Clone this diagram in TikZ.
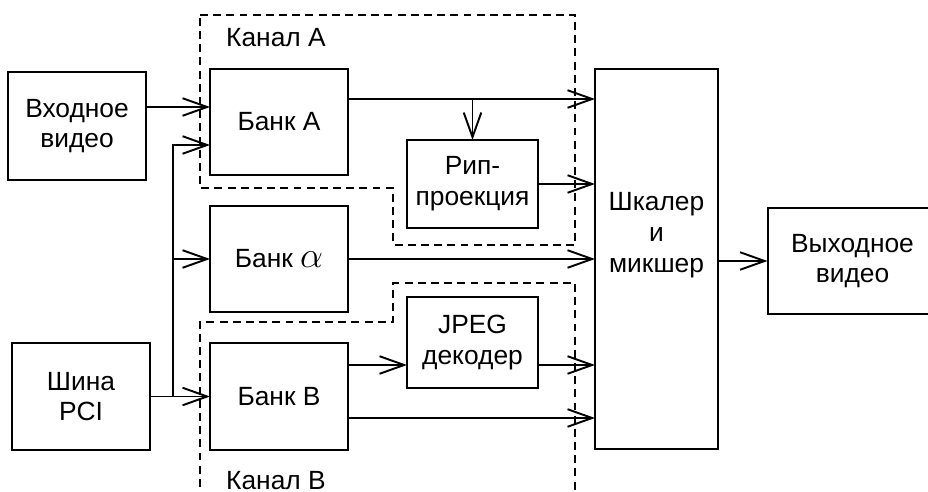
\documentclass[tikz,border=0pt]{standalone}
\usepackage{fontspec}
\setmainfont{Liberation Sans}
\usepackage{tikz}
\usetikzlibrary{arrows.meta, calc}

\begin{document}
\begin{tikzpicture}[x=0.02cm, y=-0.02cm,
        font=\fontsize{15}{17.5}\selectfont,
        >={Straight Barb[length=14pt, width=10pt, line width=1.1pt]},
        blk/.style={draw, line width=1.1pt, inner sep=0pt, outer sep=0pt, align=center},
        wire/.style={line width=1.1pt},
        chan/.style={line width=0.6pt, dash pattern=on 4.5pt off 3pt}]
        \useasboundingbox (0,0) rectangle (928,492);

        \node[blk, minimum width=2.76cm, minimum height=2.16cm] (vin) at (77,126) {Входное\\видео};
        \node[blk, minimum width=2.76cm, minimum height=2.14cm] (pci) at (81,396.5) {Шина\\PCI};
        \node[blk, minimum width=2.76cm, minimum height=2.12cm] (bankA) at (279,122) {Банк A};
        \node[blk, minimum width=2.76cm, minimum height=2.12cm] (bankal) at (279,259) {Банк {\fontsize{21}{21}\selectfont$\alpha$}};
        \node[blk, minimum width=2.76cm, minimum height=2.14cm] (bankB) at (279,396.5) {Банк B};
        \node[blk, minimum width=2.62cm, minimum height=1.76cm] (rip) at (472.5,184) {Рип-\\проекция};
        \node[blk, minimum width=2.62cm, minimum height=1.82cm] (jpeg) at (472.5,342.5) {JPEG\\декодер};
        \node[blk, minimum width=2.46cm, minimum height=7.6cm,
              label={[align=center, yshift=0.48cm]center:Шкалер\\и\\микшер}] (scal) at (656.5,259) {};
        \node[blk, minimum width=3.5cm, minimum height=2.12cm] (vout) at (855,261) {\hspace*{-0.1cm}Выходное\\\hspace*{-0.1cm}видео};

        % channels
        \draw[chan] (200,15) -- (575,15) -- (575,245) -- (393,245) -- (393,188) -- (200,188) -- cycle;
        \draw[chan] (200,500) -- (200,322) -- (393,322) -- (393,283) -- (575,283) -- (575,500);
        \node[anchor=base west] (chA) at (220,47) {Канал A};
        \node[anchor=base west] (chB) at (220,489) {Канал B};

        % inputs
        \draw[wire, ->] ([yshift=0.38cm]vin.east) -- ([yshift=0.38cm]vin.east -| bankA.west);
        \draw[wire, ->] (pci.east) -- (bankB.west);
        \coordinate (br) at ($(pci.east)!0.383!(bankB.west)$);
        \draw[wire, ->] (br) |- ([yshift=-0.46cm]bankA.west);
        \draw[wire, ->] (br |- bankal.west) -- (bankal.west);

        % A -> scaler
        \draw[wire, ->] ([yshift=0.46cm]bankA.east) -- ([yshift=0.46cm]bankA.east -| scal.west);
        \draw[wire, ->] ([yshift=0.46cm]bankA.east -| rip.north) -- (rip.north);
        \draw[wire, ->] (rip.east) -- (rip.east -| scal.west);

        % alpha -> scaler
        \draw[wire, ->] (bankal.east) -- (bankal.east -| scal.west);

        % B -> scaler
        \draw[wire, ->] ([yshift=0.63cm]bankB.east) -- ([yshift=0.63cm]bankB.east -| jpeg.west);
        \draw[wire, ->] ([yshift=0.63cm]bankB.east -| jpeg.east) -- ([yshift=0.63cm]bankB.east -| scal.west);
        \draw[wire, ->] ([yshift=-0.43cm]bankB.east) -- ([yshift=-0.43cm]bankB.east -| scal.west);

        % scaler -> out
        \draw[wire, ->] (scal.east |- vout.west) -- (vout.west);
    \end{tikzpicture}
\end{document}
